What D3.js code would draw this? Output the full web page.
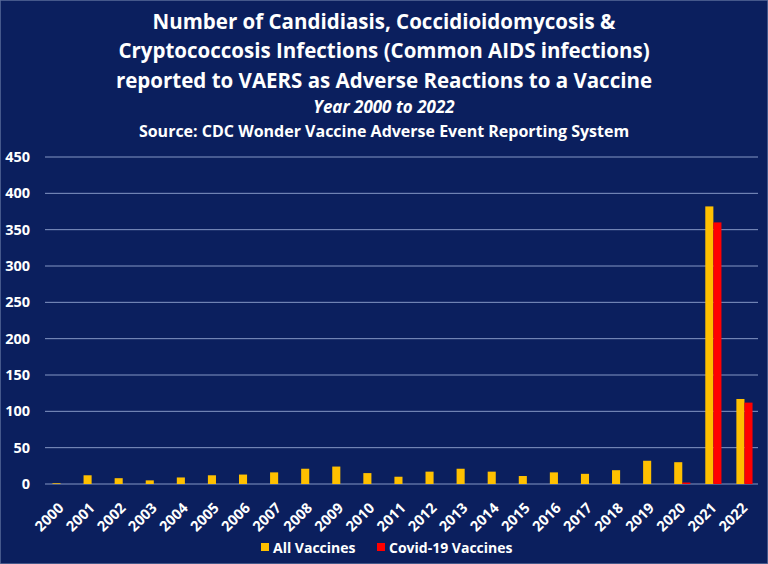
<!DOCTYPE html>
<html>
<head>
<meta charset="utf-8">
<script src="https://cdn.jsdelivr.net/npm/d3@7"></script>
<style>
  html, body { margin: 0; padding: 0; background: #0b1f5e; }
  svg { display: block; font-family: "Open Sans", sans-serif; }
</style>
</head>
<body>
<div id="chart"></div>
<script>
// Data
const years = ["2000","2001","2002","2003","2004","2005","2006","2007","2008","2009","2010","2011",
  "2012","2013","2014","2015","2016","2017","2018","2019","2020","2021","2022"];
const allVaccines = [1, 12, 8, 5, 9, 12, 13, 16, 21, 24, 15, 10, 17, 21, 17, 11, 16, 14, 19, 32, 30, 382, 117];
const covidVaccines = [0, 0, 0, 0, 0, 0, 0, 0, 0, 0, 0, 0, 0, 0, 0, 0, 0, 0, 0, 0, 2, 360, 112];
const seriesNames = ["All Vaccines", "Covid-19 Vaccines"];
const seriesColors = ["#ffc000", "#ff0000"];
const yTicks = [0, 50, 100, 150, 200, 250, 300, 350, 400, 450];
const titleLines = [
  "Number of Candidiasis, Coccidioidomycosis &",
  "Cryptococcosis Infections (Common AIDS infections)",
  "reported to VAERS as Adverse Reactions to a Vaccine"
];

const width = 768, height = 564;
const rows = years.map((y, i) => ({ year: y, values: [allVaccines[i], covidVaccines[i]] }));

const svg = d3.select("#chart").append("svg")
  .attr("width", width)
  .attr("height", height);

svg.append("rect")
  .attr("width", width).attr("height", height)
  .attr("fill", "#0b1f5e")
  .attr("stroke", "#5a6c9a").attr("stroke-width", 1.5);

// Titles
svg.selectAll(".title")
  .data(titleLines)
  .enter().append("text")
  .attr("x", 384)
  .attr("y", (d, i) => 28.5 + i * 29.8)
  .attr("text-anchor", "middle")
  .attr("fill", "#fff")
  .attr("font-size", 20.5)
  .attr("font-weight", "bold")
  .text(d => d);

svg.append("text")
  .attr("x", 384).attr("y", 113)
  .attr("text-anchor", "middle")
  .attr("fill", "#fff")
  .attr("font-size", 17)
  .attr("font-weight", "bold")
  .attr("font-style", "italic")
  .text("Year 2000 to 2022");

svg.append("text")
  .attr("x", 384).attr("y", 137)
  .attr("text-anchor", "middle")
  .attr("fill", "#fff")
  .attr("font-size", 16)
  .attr("font-weight", "bold")
  .text("Source: CDC Wonder Vaccine Adverse Event Reporting System");

// Scales
const x0 = d3.scaleBand().domain(years).range([45, 760]).paddingInner(0.48).paddingOuter(0.24);
const x1 = d3.scaleBand().domain([0, 1]).range([0, x0.bandwidth()]);
const y = d3.scaleLinear().domain([0, 450]).range([484, 157]);

// Gridlines
svg.append("g")
  .selectAll("line")
  .data(yTicks)
  .enter().append("line")
  .attr("x1", 45).attr("x2", 758)
  .attr("y1", d => y(d)).attr("y2", d => y(d))
  .attr("stroke", "#8597c4")
  .attr("stroke-width", 1);

// Y axis
const yAxis = svg.append("g")
  .attr("transform", "translate(30,0)")
  .call(d3.axisLeft(y).tickValues(yTicks).tickSize(0).tickPadding(0));
yAxis.select(".domain").remove();
yAxis.selectAll("text")
  .attr("fill", "#fff")
  .attr("font-size", 14.5)
  .attr("font-weight", "bold")
  .attr("font-family", "Open Sans, sans-serif");

// Bars
const groups = svg.append("g")
  .selectAll("g")
  .data(rows)
  .enter().append("g")
  .attr("transform", d => `translate(${x0(d.year)},0)`);

groups.selectAll("rect")
  .data(d => d.values)
  .enter().append("rect")
  .attr("x", (d, i) => x1(i))
  .attr("width", x1.bandwidth())
  .attr("y", d => y(d))
  .attr("height", d => y(0) - y(d))
  .attr("fill", (d, i) => seriesColors[i]);

// X axis
const xAxis = svg.append("g")
  .attr("transform", `translate(0,${y(0)})`)
  .call(d3.axisBottom(x0).tickSize(0).tickPadding(0));
xAxis.select(".domain").remove();
xAxis.selectAll("text")
  .attr("fill", "#fff")
  .attr("font-size", 14.5)
  .attr("font-weight", "bold")
  .attr("font-family", "Open Sans, sans-serif")
  .attr("text-anchor", "end")
  .attr("dy", null)
  .attr("y", 0)
  .attr("transform", "translate(4,25) rotate(-45)");

// Legend
const legend = svg.append("g").attr("transform", "translate(261,543)");
const legendX = [0, 116];
seriesNames.forEach((name, i) => {
  const g = legend.append("g").attr("transform", `translate(${legendX[i]},0)`);
  g.append("rect").attr("width", 8).attr("height", 8).attr("fill", seriesColors[i]);
  g.append("text")
    .attr("x", 12).attr("y", 9.5)
    .attr("fill", "#fff")
    .attr("font-size", 14)
    .attr("font-weight", "bold")
    .text(name);
});
</script>
</body>
</html>
